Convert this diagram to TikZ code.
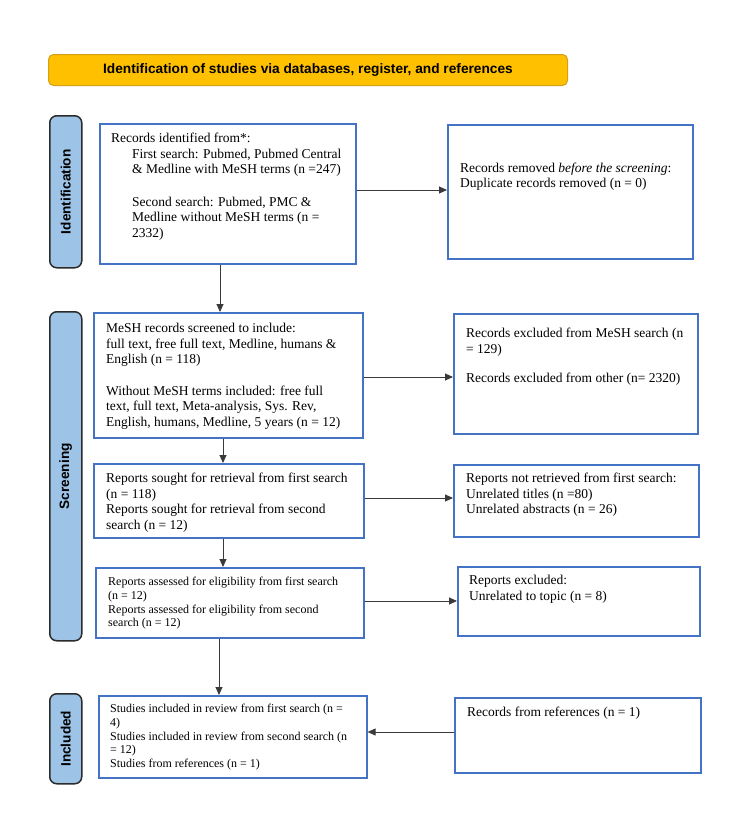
\documentclass[tikz,border=0pt]{standalone}
\usepackage{fontspec}
\setmainfont{Liberation Serif}
\setsansfont{Liberation Sans}
\usetikzlibrary{arrows.meta}
\definecolor{boxblue}{HTML}{4472C4}
\definecolor{barfill}{HTML}{9DC3E6}
\definecolor{bardraw}{HTML}{2B2B2B}
\definecolor{hdrfill}{HTML}{FFC000}
\definecolor{hdrdraw}{HTML}{D4A017}
\definecolor{arrgray}{HTML}{3A3A3A}
\begin{document}
\begin{tikzpicture}[x=1pt,y=-1pt,
 box/.style={draw=boxblue,line width=1.6pt,anchor=north west,inner sep=0pt,fill=white},
 txt/.style={anchor=north west,inner sep=0pt,align=left,font=\fontsize{13.5}{15.5}\selectfont},
 smalltxt/.style={txt,font=\fontsize{12}{13.75}\selectfont},
 bar/.style={draw=bardraw,line width=1.5pt,fill=barfill,rounded corners=7pt,anchor=north west,inner sep=0pt},
 bartxt/.style={rotate=90,inner sep=0pt,font=\sffamily\bfseries\fontsize{13.6}{16}\selectfont},
 arr/.style={-{Triangle[length=8pt,width=7pt]},line width=0.9pt,draw=arrgray,fill=black}]
\fill[white] (0,0) rectangle (750,838);
\useasboundingbox (0,0) rectangle (750,838);

% header
\node[draw=hdrdraw,fill=hdrfill,rounded corners=5pt,line width=1pt,minimum width=519pt,minimum height=31pt,anchor=north west,inner sep=0pt,font=\sffamily\bfseries\fontsize{13.7}{16}\selectfont] (hdr) at (48,54) {Identification of studies via databases, register, and references};

% side bars
\node[bar,minimum width=32pt,minimum height=152pt] (barI) at (49,115) {};
\node[bartxt] (barIt) at (barI.center) {Identification};
\node[bar,minimum width=32pt,minimum height=329pt] (barS) at (49,311) {};
\node[bartxt] (barSt) at (barS.center) {Screening};
\node[bar,minimum width=32pt,minimum height=90pt] (barN) at (49,693) {};
\node[bartxt] (barNt) at (barN.center) {Included};

% boxes
\node[box,minimum width=256pt,minimum height=140pt] (box1) at (99,123) {};
\node[box,minimum width=245pt,minimum height=134pt] (rb1) at (447,124) {};
\node[box,minimum width=269pt,minimum height=125pt] (box2) at (93,312) {};
\node[box,minimum width=244pt,minimum height=120pt] (rb2) at (453,313) {};
\node[box,minimum width=270pt,minimum height=74pt] (box3) at (93,463) {};
\node[box,minimum width=245pt,minimum height=72pt] (rb3) at (453,464) {};
\node[box,minimum width=268pt,minimum height=70pt] (box4) at (95,567) {};
\node[box,minimum width=242pt,minimum height=69pt] (rb4) at (457,566) {};
\node[box,minimum width=268pt,minimum height=82pt] (box5) at (98,695) {};
\node[box,minimum width=246pt,minimum height=75pt] (rb5) at (454,697) {};

% texts
\node[txt] (t1) at (111,133) {Records identified from*:\\
\hspace*{21pt}First search: Pubmed, Pubmed Central\\
\hspace*{21pt}\& Medline with MeSH terms (n =247)\\[17pt]
\hspace*{21pt}Second search: Pubmed, PMC \&\\
\hspace*{21pt}Medline without MeSH terms (n =\\
\hspace*{21pt}2332)};
\node[txt,font=\fontsize{13.5}{14.5}\selectfont] (tr1) at (460,163) {Records removed \textit{before the screening}:\\Duplicate records removed (n = 0)};

\node[txt] (t2) at (106,323) {MeSH records screened to include:\\
full text, free full text, Medline, humans \&\\
English (n = 118)\\[16pt]
Without MeSH terms included: free full\\
text, full text, Meta-analysis, Sys. Rev,\\
English, humans, Medline, 5 years (n = 12)};
\node[txt] (tr2) at (466,328) {Records excluded from MeSH search (n\\= 129)\\[14pt]Records excluded from other (n= 2320)};

\node[txt] (t3) at (106,473) {Reports sought for retrieval from first search\\(n = 118)\\Reports sought for retrieval from second\\search (n = 12)};
\node[txt] (tr3) at (466,473) {Reports not retrieved from first search:\\Unrelated titles (n =80)\\Unrelated abstracts (n = 26)};

\node[smalltxt] (t4) at (108,577) {Reports assessed for eligibility from first search\\(n = 12)\\Reports assessed for eligibility from second\\search (n = 12)};
\node[txt] (tr4) at (469,575) {Reports excluded:\\Unrelated to topic (n = 8)};

\node[smalltxt] (t5) at (110,704) {Studies included in review from first search (n =\\4)\\Studies included in review from second search (n\\= 12)\\Studies from references (n = 1)};
\node[txt] (tr5) at (467,707) {Records from references (n = 1)};

% connectors
\draw[arr] (box1.south -| 220,0) -- (box2.north -| 220,0);
\draw[arr] (box2.south -| 223,0) -- (box3.north -| 223,0);
\draw[arr] (box3.south -| 223,0) -- (box4.north -| 223,0);
\draw[arr] (box4.south -| 219,0) -- (box5.north -| 219,0);
\draw[arr] (box1.east |- 0,190) -- (rb1.west |- 0,190);
\draw[arr] (box2.east |- 0,377) -- (rb2.west |- 0,377);
\draw[arr] (box3.east |- 0,498) -- (rb3.west |- 0,498);
\draw[arr] (box4.east |- 0,601) -- (rb4.west |- 0,601);
\draw[arr] (rb5.west |- 0,732) -- (box5.east |- 0,732);
\end{tikzpicture}
\end{document}
